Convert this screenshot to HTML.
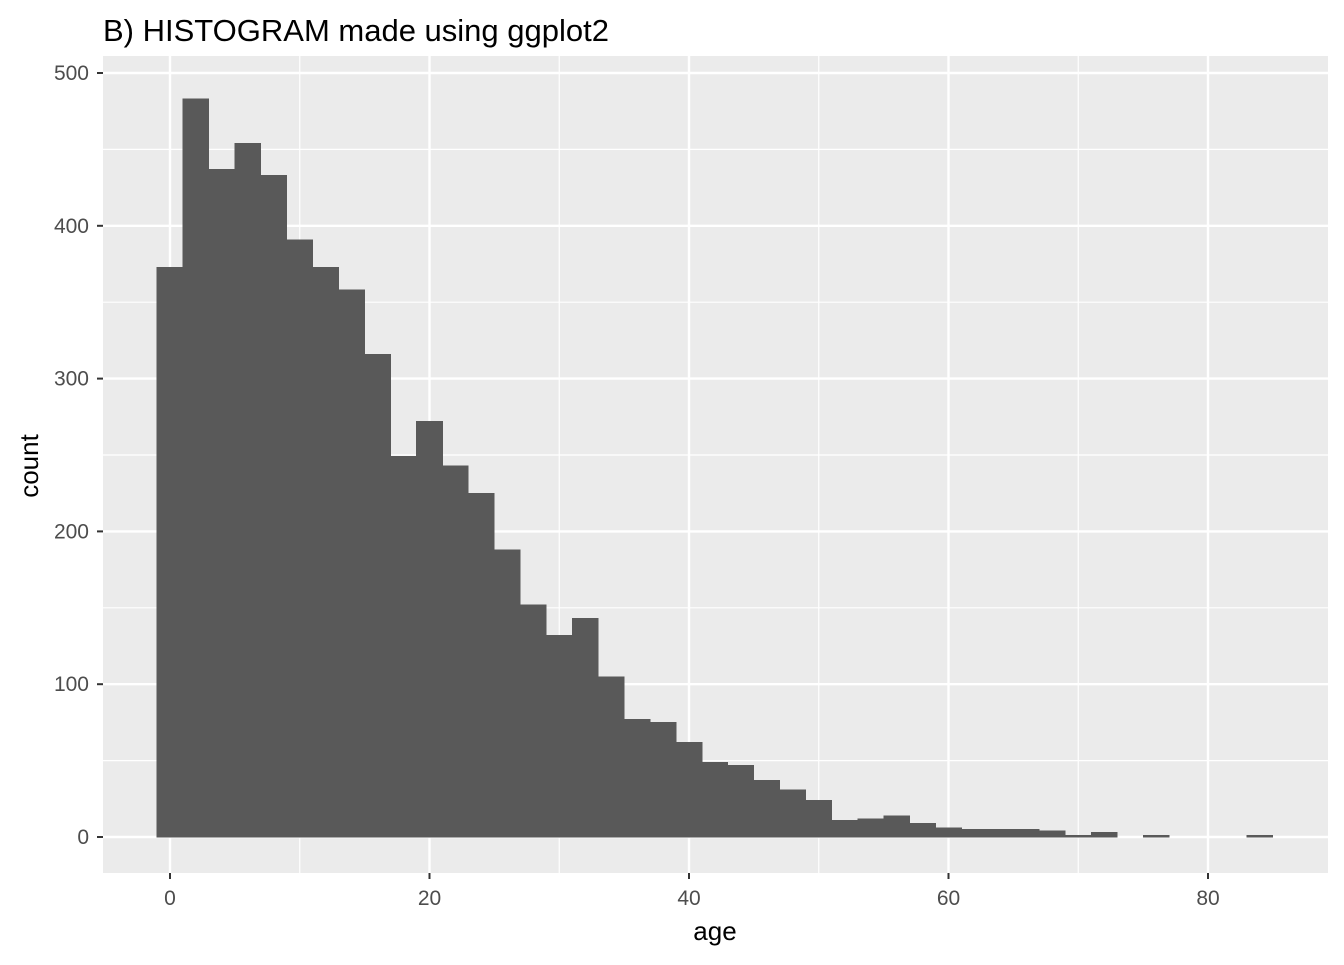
<!DOCTYPE html>
<html><head><meta charset="utf-8"><style>
body{margin:0;background:#fff;font-family:"Liberation Sans",Arial,sans-serif}
</style></head><body>
<svg width="1344" height="960" xmlns="http://www.w3.org/2000/svg">
<text x="103" y="41" font-size="31" fill="#000">B) HISTOGRAM made using ggplot2</text>
<rect x="103" y="56" width="1225" height="817" fill="#ebebeb"/>
<g id="grid"></g>
<g id="bars" shape-rendering="crispEdges"></g>
<g id="axes"></g>
<text x="715" y="940" font-size="26" text-anchor="middle" fill="#000">age</text>
<text transform="translate(38,466) rotate(-90)" font-size="26" text-anchor="middle" fill="#000">count</text>
</svg>
<script>
const binStart = -1;
const binWidth = 2;
const counts = [373,483,437,454,433,391,373,358,316,249,272,243,225,188,152,132,143,105,77,75,62,49,47,37,31,24,11,12,14,9,6,5,5,5,4,1,3,0,1,0,0,0,1];
const xTicks = [0,20,40,60,80];
const yTicks = [0,100,200,300,400,500];
const NS = "http://www.w3.org/2000/svg";
const xs = v => 170 + v * 12.975;
const ys = v => 837 - v * 1.528;
function mk(tag, attrs, parent){const e=document.createElementNS(NS,tag);for(const k in attrs)e.setAttribute(k,attrs[k]);document.getElementById(parent).appendChild(e);return e;}
for (let i=0;i<xTicks.length;i++){
  const t=xTicks[i];
  const m=t+10;const ml=mk('line',{x1:xs(m),x2:xs(m),y1:56,y2:873,stroke:'#fff','stroke-width':1.2},'grid');
  
  
  const g=mk('line',{x1:xs(t),x2:xs(t),y1:56,y2:873,stroke:'#fff','stroke-width':2.4},'grid');
  
  
  const tk=mk('line',{x1:xs(t),x2:xs(t),y1:873,y2:879,stroke:'#333','stroke-width':2},'axes');
  
  
  const tx=mk('text',{x:xs(t),y:905,'font-size':21,'text-anchor':'middle',fill:'#4d4d4d'},'axes');
  tx.textContent=t;
  
  
}
for (let i=0;i<yTicks.length;i++){
  const t=yTicks[i];
  if(i<yTicks.length-1){const ml=mk('line',{x1:103,x2:1328,y1:ys(t+50),y2:ys(t+50),stroke:'#fff','stroke-width':1.2},'grid');
  
  }
  const g=mk('line',{x1:103,x2:1328,y1:ys(t),y2:ys(t),stroke:'#fff','stroke-width':2.4},'grid');
  
  
  const tk=mk('line',{x1:97,x2:103,y1:ys(t),y2:ys(t),stroke:'#333','stroke-width':2},'axes');
  
  
  const tx=mk('text',{x:89,y:ys(t)+7,'font-size':21,'text-anchor':'end',fill:'#4d4d4d'},'axes');
  tx.textContent=t;
  
  
}
counts.forEach((c,i)=>{
  if(c<=0) return;
  const x0=binStart+i*binWidth;
  const r=mk('rect',{x:xs(x0),y:ys(c),width:xs(x0+binWidth)-xs(x0),height:ys(0)-ys(c),fill:'#595959',stroke:'#595959','stroke-width':0.6},'bars');
  
  
});
</script>
</body></html>
